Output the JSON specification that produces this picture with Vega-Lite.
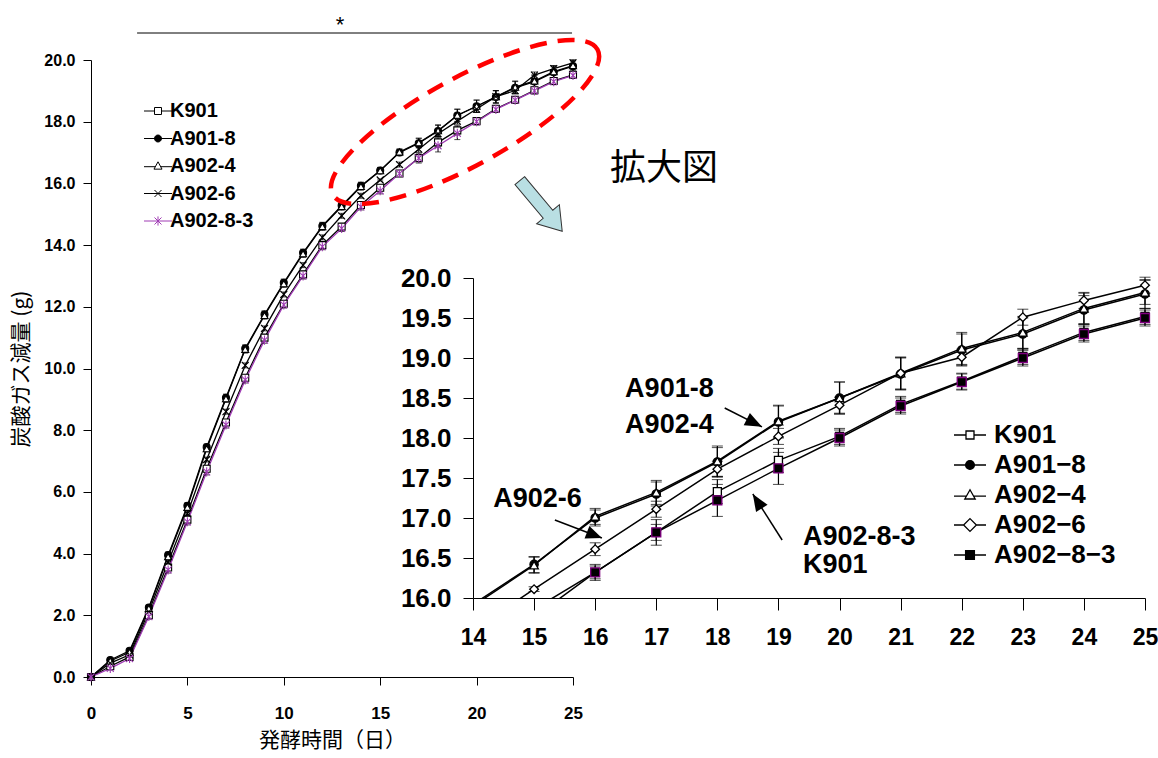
{
  "$schema": "https://vega.github.io/schema/vega-lite/v6.json",
  "width": 685,
  "height": 320,
  "autosize": {"type": "none"},
  "padding": {"left": 473, "top": 278, "right": 0, "bottom": 160},
  "background": "white",
  "config": {
    "view": {"stroke": null},
    "font": "Liberation Sans",
    "axis": {"grid": false, "domainColor": "black", "tickColor": "black", "labelColor": "black", "titleColor": "black", "domainWidth": 1, "tickWidth": 1, "labelOverlap": false, "labelFlush": false},
    "legend": {"padding": 0, "symbolOpacity": 1, "labelColor": "black"}
  },
  "datasets": {
    "d": [
      {"series":"K901","day":0,"val":0,"err":0},{"series":"K901","day":1,"val":0.35,"err":0.05},{"series":"K901","day":2,"val":0.65,"err":0.05},{"series":"K901","day":3,"val":2.0,"err":0.08},{"series":"K901","day":4,"val":3.55,"err":0.1},{"series":"K901","day":5,"val":5.1,"err":0.1},{"series":"K901","day":6,"val":6.75,"err":0.1},{"series":"K901","day":7,"val":8.25,"err":0.1},{"series":"K901","day":8,"val":9.7,"err":0.1},{"series":"K901","day":9,"val":11.0,"err":0.1},{"series":"K901","day":10,"val":12.1,"err":0.1},{"series":"K901","day":11,"val":13.05,"err":0.1},{"series":"K901","day":12,"val":14.0,"err":0.1},{"series":"K901","day":13,"val":14.6,"err":0.1},{"series":"K901","day":14,"val":15.3,"err":0.1},{"series":"K901","day":15,"val":15.86,"err":0.1},{"series":"K901","day":16,"val":16.32,"err":0.08},{"series":"K901","day":17,"val":16.82,"err":0.1},{"series":"K901","day":18,"val":17.33,"err":0.15},{"series":"K901","day":19,"val":17.72,"err":0.15},{"series":"K901","day":20,"val":18.02,"err":0.1},{"series":"K901","day":21,"val":18.42,"err":0.1},{"series":"K901","day":22,"val":18.71,"err":0.1},{"series":"K901","day":23,"val":19.02,"err":0.1},{"series":"K901","day":24,"val":19.32,"err":0.1},{"series":"K901","day":25,"val":19.52,"err":0.1},
      {"series":"A901-8","day":0,"val":0,"err":0},{"series":"A901-8","day":1,"val":0.55,"err":0.05},{"series":"A901-8","day":2,"val":0.85,"err":0.06},{"series":"A901-8","day":3,"val":2.25,"err":0.08},{"series":"A901-8","day":4,"val":3.95,"err":0.1},{"series":"A901-8","day":5,"val":5.55,"err":0.1},{"series":"A901-8","day":6,"val":7.45,"err":0.1},{"series":"A901-8","day":7,"val":9.05,"err":0.12},{"series":"A901-8","day":8,"val":10.65,"err":0.12},{"series":"A901-8","day":9,"val":11.75,"err":0.12},{"series":"A901-8","day":10,"val":12.78,"err":0.12},{"series":"A901-8","day":11,"val":13.75,"err":0.12},{"series":"A901-8","day":12,"val":14.62,"err":0.12},{"series":"A901-8","day":13,"val":15.28,"err":0.12},{"series":"A901-8","day":14,"val":15.92,"err":0.12},{"series":"A901-8","day":15,"val":16.42,"err":0.1},{"series":"A901-8","day":16,"val":17.0,"err":0.1},{"series":"A901-8","day":17,"val":17.3,"err":0.15},{"series":"A901-8","day":18,"val":17.7,"err":0.18},{"series":"A901-8","day":19,"val":18.2,"err":0.2},{"series":"A901-8","day":20,"val":18.5,"err":0.2},{"series":"A901-8","day":21,"val":18.8,"err":0.2},{"series":"A901-8","day":22,"val":19.1,"err":0.2},{"series":"A901-8","day":23,"val":19.3,"err":0.2},{"series":"A901-8","day":24,"val":19.6,"err":0.18},{"series":"A901-8","day":25,"val":19.8,"err":0.18},
      {"series":"A902-4","day":0,"val":0,"err":0},{"series":"A902-4","day":1,"val":0.52,"err":0.05},{"series":"A902-4","day":2,"val":0.8,"err":0.06},{"series":"A902-4","day":3,"val":2.22,"err":0.08},{"series":"A902-4","day":4,"val":3.9,"err":0.1},{"series":"A902-4","day":5,"val":5.5,"err":0.1},{"series":"A902-4","day":6,"val":7.4,"err":0.1},{"series":"A902-4","day":7,"val":9.02,"err":0.12},{"series":"A902-4","day":8,"val":10.62,"err":0.12},{"series":"A902-4","day":9,"val":11.72,"err":0.12},{"series":"A902-4","day":10,"val":12.75,"err":0.12},{"series":"A902-4","day":11,"val":13.72,"err":0.12},{"series":"A902-4","day":12,"val":14.6,"err":0.12},{"series":"A902-4","day":13,"val":15.25,"err":0.12},{"series":"A902-4","day":14,"val":15.9,"err":0.12},{"series":"A902-4","day":15,"val":16.41,"err":0.1},{"series":"A902-4","day":16,"val":17.02,"err":0.1},{"series":"A902-4","day":17,"val":17.32,"err":0.15},{"series":"A902-4","day":18,"val":17.71,"err":0.19},{"series":"A902-4","day":19,"val":18.21,"err":0.2},{"series":"A902-4","day":20,"val":18.5,"err":0.2},{"series":"A902-4","day":21,"val":18.81,"err":0.2},{"series":"A902-4","day":22,"val":19.12,"err":0.2},{"series":"A902-4","day":23,"val":19.32,"err":0.2},{"series":"A902-4","day":24,"val":19.62,"err":0.19},{"series":"A902-4","day":25,"val":19.82,"err":0.15},
      {"series":"A902-6","day":0,"val":0,"err":0},{"series":"A902-6","day":1,"val":0.45,"err":0.04},{"series":"A902-6","day":2,"val":0.72,"err":0.05},{"series":"A902-6","day":3,"val":2.12,"err":0.06},{"series":"A902-6","day":4,"val":3.72,"err":0.08},{"series":"A902-6","day":5,"val":5.3,"err":0.08},{"series":"A902-6","day":6,"val":7.05,"err":0.08},{"series":"A902-6","day":7,"val":8.6,"err":0.08},{"series":"A902-6","day":8,"val":10.1,"err":0.08},{"series":"A902-6","day":9,"val":11.3,"err":0.08},{"series":"A902-6","day":10,"val":12.4,"err":0.08},{"series":"A902-6","day":11,"val":13.35,"err":0.08},{"series":"A902-6","day":12,"val":14.25,"err":0.08},{"series":"A902-6","day":13,"val":14.95,"err":0.08},{"series":"A902-6","day":14,"val":15.6,"err":0.08},{"series":"A902-6","day":15,"val":16.11,"err":0.03},{"series":"A902-6","day":16,"val":16.61,"err":0.08},{"series":"A902-6","day":17,"val":17.11,"err":0.1},{"series":"A902-6","day":18,"val":17.61,"err":0.1},{"series":"A902-6","day":19,"val":18.02,"err":0.1},{"series":"A902-6","day":20,"val":18.41,"err":0.1},{"series":"A902-6","day":21,"val":18.81,"err":0.2},{"series":"A902-6","day":22,"val":19.01,"err":0.1},{"series":"A902-6","day":23,"val":19.51,"err":0.1},{"series":"A902-6","day":24,"val":19.72,"err":0.1},{"series":"A902-6","day":25,"val":19.91,"err":0.1},
      {"series":"A902-8-3","day":0,"val":0,"err":0},{"series":"A902-8-3","day":1,"val":0.28,"err":0.05},{"series":"A902-8-3","day":2,"val":0.6,"err":0.05},{"series":"A902-8-3","day":3,"val":1.96,"err":0.08},{"series":"A902-8-3","day":4,"val":3.47,"err":0.1},{"series":"A902-8-3","day":5,"val":5.03,"err":0.1},{"series":"A902-8-3","day":6,"val":6.65,"err":0.1},{"series":"A902-8-3","day":7,"val":8.17,"err":0.1},{"series":"A902-8-3","day":8,"val":9.63,"err":0.1},{"series":"A902-8-3","day":9,"val":10.92,"err":0.1},{"series":"A902-8-3","day":10,"val":12.06,"err":0.1},{"series":"A902-8-3","day":11,"val":13.0,"err":0.1},{"series":"A902-8-3","day":12,"val":13.95,"err":0.1},{"series":"A902-8-3","day":13,"val":14.54,"err":0.1},{"series":"A902-8-3","day":14,"val":15.24,"err":0.1},{"series":"A902-8-3","day":15,"val":15.76,"err":0.1},{"series":"A902-8-3","day":16,"val":16.32,"err":0.1},{"series":"A902-8-3","day":17,"val":16.82,"err":0.16},{"series":"A902-8-3","day":18,"val":17.22,"err":0.2},{"series":"A902-8-3","day":19,"val":17.62,"err":0.2},{"series":"A902-8-3","day":20,"val":18.0,"err":0.1},{"series":"A902-8-3","day":21,"val":18.4,"err":0.1},{"series":"A902-8-3","day":22,"val":18.7,"err":0.1},{"series":"A902-8-3","day":23,"val":19.0,"err":0.1},{"series":"A902-8-3","day":24,"val":19.3,"err":0.1},{"series":"A902-8-3","day":25,"val":19.5,"err":0.1}
    ],
    "insetText": [
      {"day":16.49,"val":18.51,"label":"A901-8"},
      {"day":16.49,"val":18.06,"label":"A902-4"},
      {"day":14.33,"val":17.14,"label":"A902-6"},
      {"day":19.4,"val":16.66,"label":"A902-8-3"},
      {"day":19.4,"val":16.31,"label":"K901"}
    ],
    "arrows": [
      {"id":"a1","day":18.12,"val":18.375,"day2":18.73,"val2":18.14},
      {"id":"a2","day":15.34,"val":16.975,"day2":16.11,"val2":16.75},
      {"id":"a3","day":19.06,"val":16.725,"day2":18.58,"val2":17.3}
    ],
    "sig": [{"day":2.39,"day2":24.95,"val":20.875,"label":"*","lday":12.92,"lval":20.9}],
    "zoomNote": [{"day":29.72,"val":16.47,"label":"拡大図"}],
    "blueArrow": [{"day":23.34,"val":15.27}],
    "ellipse": [{"day":19.4,"val":17.99}]
  },
  "layer": [
    {
      "layer": [
        {
          "data": {"name": "d"},
          "mark": {"type": "line", "strokeWidth": 1.3},
          "encoding": {
            "x": {"field": "day", "type": "quantitative", "title": "発酵時間（日）", "scale": {"domain": [0, 25], "range": [-382, 100], "nice": false, "zero": false, "padding": 0},
              "axis": {"orient": "bottom", "offset": 79, "values": [0, 5, 10, 15, 20, 25], "format": "d", "tickSize": 8, "labelPadding": 20, "labelOverlap": false, "labelFlush": false, "labelFont": "Liberation Sans", "labelFontSize": 17, "labelFontWeight": "bold", "titleFont": "Noto Sans CJK JP", "titleFontSize": 21, "titleFontWeight": "normal", "titlePadding": 8}},
            "y": {"field": "val", "type": "quantitative", "title": "炭酸ガス減量 (g)", "scale": {"domain": [0, 20], "range": [399, -218], "nice": false, "zero": false, "padding": 0},
              "axis": {"orient": "left", "offset": 382, "values": [0, 2, 4, 6, 8, 10, 12, 14, 16, 18, 20], "format": ".1f", "tickSize": 8, "labelPadding": 8, "labelOverlap": false, "labelFont": "Liberation Sans", "labelFontSize": 16, "labelFontWeight": "bold", "titleFont": "Noto Sans CJK JP", "titleFontSize": 21, "titleFontWeight": "normal", "titlePadding": 12}},
            "stroke": {"field": "series", "type": "nominal", "scale": {"domain": ["K901", "A901-8", "A902-4", "A902-6", "A902-8-3"], "range": ["black", "black", "black", "black", "#a03cb4"]}, "legend": null}
          }
        },
        {
          "data": {"name": "d"},
          "transform": [{"filter": "datum.day > 0"}],
          "mark": {"type": "errorbar", "ticks": {"size": 6}, "color": "black", "rule": {"strokeWidth": 1}},
          "encoding": {
            "x": {"field": "day", "type": "quantitative", "title": "発酵時間（日）",
              "axis": {"orient": "bottom", "offset": 79, "values": [0, 5, 10, 15, 20, 25], "format": "d", "tickSize": 8, "labelPadding": 20, "labelOverlap": false, "labelFlush": false, "labelFont": "Liberation Sans", "labelFontSize": 17, "labelFontWeight": "bold", "titleFont": "Noto Sans CJK JP", "titleFontSize": 21, "titleFontWeight": "normal", "titlePadding": 8}},
            "y": {"field": "val", "type": "quantitative", "title": "炭酸ガス減量 (g)",
              "axis": {"orient": "left", "offset": 382, "values": [0, 2, 4, 6, 8, 10, 12, 14, 16, 18, 20], "format": ".1f", "tickSize": 8, "labelPadding": 8, "labelOverlap": false, "labelFont": "Liberation Sans", "labelFontSize": 16, "labelFontWeight": "bold", "titleFont": "Noto Sans CJK JP", "titleFontSize": 21, "titleFontWeight": "normal", "titlePadding": 12}},
            "yError": {"field": "err"},
            "detail": {"field": "series"}
          }
        },
        {
          "data": {"name": "d"},
          "mark": {"type": "point", "filled": true, "opacity": 1, "strokeWidth": 1.1},
          "encoding": {
            "x": {"field": "day", "type": "quantitative", "title": "発酵時間（日）",
              "axis": {"orient": "bottom", "offset": 79, "values": [0, 5, 10, 15, 20, 25], "format": "d", "tickSize": 8, "labelPadding": 20, "labelOverlap": false, "labelFlush": false, "labelFont": "Liberation Sans", "labelFontSize": 17, "labelFontWeight": "bold", "titleFont": "Noto Sans CJK JP", "titleFontSize": 21, "titleFontWeight": "normal", "titlePadding": 8}},
            "y": {"field": "val", "type": "quantitative", "title": "炭酸ガス減量 (g)",
              "axis": {"orient": "left", "offset": 382, "values": [0, 2, 4, 6, 8, 10, 12, 14, 16, 18, 20], "format": ".1f", "tickSize": 8, "labelPadding": 8, "labelOverlap": false, "labelFont": "Liberation Sans", "labelFontSize": 16, "labelFontWeight": "bold", "titleFont": "Noto Sans CJK JP", "titleFontSize": 21, "titleFontWeight": "normal", "titlePadding": 12}},
            "shape": {"field": "series", "type": "nominal", "legend": null, "scale": {"domain": ["K901", "A901-8", "A902-4", "A902-6", "A902-8-3"], "range": ["square", "circle", "triangle-up", "M-1,-1L1,1M-1,1L1,-1", "M-1,-1L1,1M-1,1L1,-1M0,-1.3L0,1.3"]}},
            "fill": {"field": "series", "type": "nominal", "legend": null, "scale": {"domain": ["K901", "A901-8", "A902-4", "A902-6", "A902-8-3"], "range": ["white", "black", "white", "transparent", "transparent"]}},
            "stroke": {"field": "series", "type": "nominal", "legend": null, "scale": {"domain": ["K901", "A901-8", "A902-4", "A902-6", "A902-8-3"], "range": ["black", "black", "black", "black", "#a03cb4"]}},
            "size": {"field": "series", "type": "nominal", "legend": null, "scale": {"domain": ["K901", "A901-8", "A902-4", "A902-6", "A902-8-3"], "range": [49, 49, 70, 49, 100]}}
          }
        },
        {
          "data": {"name": "d"},
          "transform": [{"filter": "datum.day == 0"}],
          "mark": {"type": "point", "filled": true, "opacity": 0},
          "encoding": {
            "x": {"field": "day", "type": "quantitative", "title": "発酵時間（日）",
              "axis": {"orient": "bottom", "offset": 79, "values": [0, 5, 10, 15, 20, 25], "format": "d", "tickSize": 8, "labelPadding": 20, "labelOverlap": false, "labelFlush": false, "labelFont": "Liberation Sans", "labelFontSize": 17, "labelFontWeight": "bold", "titleFont": "Noto Sans CJK JP", "titleFontSize": 21, "titleFontWeight": "normal", "titlePadding": 8}},
            "y": {"field": "val", "type": "quantitative", "title": "炭酸ガス減量 (g)",
              "axis": {"orient": "left", "offset": 382, "values": [0, 2, 4, 6, 8, 10, 12, 14, 16, 18, 20], "format": ".1f", "tickSize": 8, "labelPadding": 8, "labelOverlap": false, "labelFont": "Liberation Sans", "labelFontSize": 16, "labelFontWeight": "bold", "titleFont": "Noto Sans CJK JP", "titleFontSize": 21, "titleFontWeight": "normal", "titlePadding": 12}},
            "shape": {"field": "series", "type": "nominal",
              "scale": {"domain": ["K901", "A901-8", "A902-4", "A902-6", "A902-8-3"], "range": [
                "M-4,0L-1,0M1,0L4,0M-1,-1L1,-1L1,1L-1,1Z",
                "M-4,0L4,0M1,0C1,0.552 0.552,1 0,1C-0.552,1 -1,0.552 -1,0C-1,-0.552 -0.552,-1 0,-1C0.552,-1 1,-0.552 1,0Z",
                "M-4,0.2L-0.75,0.2M0.75,0.2L4,0.2M0,-1.2L1.15,0.9L-1.15,0.9Z",
                "M-4,0L4,0M-1,-1L1,1M-1,1L1,-1",
                "M-4,0L4,0M-1,-1L1,1M-1,1L1,-1M0,-1.3L0,1.3"]},
              "legend": {"orient": "none", "legendX": -325, "legendY": -177, "title": null, "labelFont": "Liberation Sans", "labelFontSize": 20, "labelFontWeight": "bold", "symbolSize": 49, "symbolStrokeWidth": 1, "labelOffset": 2, "rowPadding": 7.5, "symbolOpacity": 1}},
            "fill": {"field": "series", "type": "nominal", "scale": {"domain": ["K901", "A901-8", "A902-4", "A902-6", "A902-8-3"], "range": ["white", "black", "white", "transparent", "transparent"]}},
            "stroke": {"field": "series", "type": "nominal", "scale": {"domain": ["K901", "A901-8", "A902-4", "A902-6", "A902-8-3"], "range": ["black", "black", "black", "black", "#a03cb4"]}}
          }
        },
        {
          "data": {"name": "sig"},
          "mark": {"type": "rule", "color": "black", "strokeWidth": 1},
          "encoding": {
            "x": {"field": "day", "type": "quantitative", "title": "発酵時間（日）",
              "axis": {"orient": "bottom", "offset": 79, "values": [0, 5, 10, 15, 20, 25], "format": "d", "tickSize": 8, "labelPadding": 20, "labelOverlap": false, "labelFlush": false, "labelFont": "Liberation Sans", "labelFontSize": 17, "labelFontWeight": "bold", "titleFont": "Noto Sans CJK JP", "titleFontSize": 21, "titleFontWeight": "normal", "titlePadding": 8}},
            "x2": {"field": "day2"},
            "y": {"field": "val", "type": "quantitative", "title": "炭酸ガス減量 (g)",
              "axis": {"orient": "left", "offset": 382, "values": [0, 2, 4, 6, 8, 10, 12, 14, 16, 18, 20], "format": ".1f", "tickSize": 8, "labelPadding": 8, "labelOverlap": false, "labelFont": "Liberation Sans", "labelFontSize": 16, "labelFontWeight": "bold", "titleFont": "Noto Sans CJK JP", "titleFontSize": 21, "titleFontWeight": "normal", "titlePadding": 12}}
          }
        },
        {
          "data": {"name": "sig"},
          "mark": {"type": "text", "fontSize": 22, "font": "Liberation Sans", "align": "center", "baseline": "alphabetic", "color": "black"},
          "encoding": {
            "x": {"field": "lday", "type": "quantitative", "title": "発酵時間（日）",
              "axis": {"orient": "bottom", "offset": 79, "values": [0, 5, 10, 15, 20, 25], "format": "d", "tickSize": 8, "labelPadding": 20, "labelOverlap": false, "labelFlush": false, "labelFont": "Liberation Sans", "labelFontSize": 17, "labelFontWeight": "bold", "titleFont": "Noto Sans CJK JP", "titleFontSize": 21, "titleFontWeight": "normal", "titlePadding": 8}},
            "y": {"field": "lval", "type": "quantitative", "title": "炭酸ガス減量 (g)",
              "axis": {"orient": "left", "offset": 382, "values": [0, 2, 4, 6, 8, 10, 12, 14, 16, 18, 20], "format": ".1f", "tickSize": 8, "labelPadding": 8, "labelOverlap": false, "labelFont": "Liberation Sans", "labelFontSize": 16, "labelFontWeight": "bold", "titleFont": "Noto Sans CJK JP", "titleFontSize": 21, "titleFontWeight": "normal", "titlePadding": 12}},
            "text": {"field": "label"}
          }
        },
        {
          "data": {"name": "zoomNote"},
          "mark": {"type": "text", "fontSize": 36, "font": "Noto Sans CJK JP", "align": "center", "baseline": "middle", "color": "black"},
          "encoding": {
            "x": {"field": "day", "type": "quantitative", "title": "発酵時間（日）",
              "axis": {"orient": "bottom", "offset": 79, "values": [0, 5, 10, 15, 20, 25], "format": "d", "tickSize": 8, "labelPadding": 20, "labelOverlap": false, "labelFlush": false, "labelFont": "Liberation Sans", "labelFontSize": 17, "labelFontWeight": "bold", "titleFont": "Noto Sans CJK JP", "titleFontSize": 21, "titleFontWeight": "normal", "titlePadding": 8}},
            "y": {"field": "val", "type": "quantitative", "title": "炭酸ガス減量 (g)",
              "axis": {"orient": "left", "offset": 382, "values": [0, 2, 4, 6, 8, 10, 12, 14, 16, 18, 20], "format": ".1f", "tickSize": 8, "labelPadding": 8, "labelOverlap": false, "labelFont": "Liberation Sans", "labelFontSize": 16, "labelFontWeight": "bold", "titleFont": "Noto Sans CJK JP", "titleFontSize": 21, "titleFontWeight": "normal", "titlePadding": 12}},
            "text": {"field": "label"}
          }
        },
        {
          "data": {"name": "blueArrow"},
          "mark": {"type": "point", "shape": "M-1,-0.19L0.33,-0.19L0.33,-0.45L1,0L0.33,0.45L0.33,0.19L-1,0.19Z", "size": 4356, "angle": 50, "filled": true, "fill": "#b9dfe3", "stroke": "#333333", "strokeWidth": 1, "opacity": 1},
          "encoding": {
            "x": {"field": "day", "type": "quantitative", "title": "発酵時間（日）",
              "axis": {"orient": "bottom", "offset": 79, "values": [0, 5, 10, 15, 20, 25], "format": "d", "tickSize": 8, "labelPadding": 20, "labelOverlap": false, "labelFlush": false, "labelFont": "Liberation Sans", "labelFontSize": 17, "labelFontWeight": "bold", "titleFont": "Noto Sans CJK JP", "titleFontSize": 21, "titleFontWeight": "normal", "titlePadding": 8}},
            "y": {"field": "val", "type": "quantitative", "title": "炭酸ガス減量 (g)",
              "axis": {"orient": "left", "offset": 382, "values": [0, 2, 4, 6, 8, 10, 12, 14, 16, 18, 20], "format": ".1f", "tickSize": 8, "labelPadding": 8, "labelOverlap": false, "labelFont": "Liberation Sans", "labelFontSize": 16, "labelFontWeight": "bold", "titleFont": "Noto Sans CJK JP", "titleFontSize": 21, "titleFontWeight": "normal", "titlePadding": 12}}
          }
        },
        {
          "data": {"name": "ellipse"},
          "mark": {"type": "point", "shape": "M1,0C1,0.16 0.552,0.29 0,0.29C-0.552,0.29 -1,0.16 -1,0C-1,-0.16 -0.552,-0.29 0,-0.29C0.552,-0.29 1,-0.16 1,0Z", "size": 91204, "angle": 331.3, "filled": false, "stroke": "#ff0000", "strokeWidth": 4.5, "strokeDash": [17, 11], "opacity": 1},
          "encoding": {
            "x": {"field": "day", "type": "quantitative", "title": "発酵時間（日）",
              "axis": {"orient": "bottom", "offset": 79, "values": [0, 5, 10, 15, 20, 25], "format": "d", "tickSize": 8, "labelPadding": 20, "labelOverlap": false, "labelFlush": false, "labelFont": "Liberation Sans", "labelFontSize": 17, "labelFontWeight": "bold", "titleFont": "Noto Sans CJK JP", "titleFontSize": 21, "titleFontWeight": "normal", "titlePadding": 8}},
            "y": {"field": "val", "type": "quantitative", "title": "炭酸ガス減量 (g)",
              "axis": {"orient": "left", "offset": 382, "values": [0, 2, 4, 6, 8, 10, 12, 14, 16, 18, 20], "format": ".1f", "tickSize": 8, "labelPadding": 8, "labelOverlap": false, "labelFont": "Liberation Sans", "labelFontSize": 16, "labelFontWeight": "bold", "titleFont": "Noto Sans CJK JP", "titleFontSize": 21, "titleFontWeight": "normal", "titlePadding": 12}}
          }
        }
      ],
      "resolve": {"scale": {"shape": "independent", "fill": "independent", "stroke": "independent", "size": "independent"}}
    },
    {
      "layer": [
        {
          "data": {"name": "d"},
          "transform": [{"filter": "datum.day >= 14"}],
          "mark": {"type": "line", "strokeWidth": 1.5, "color": "black", "clip": true},
          "encoding": {
            "x": {"field": "day", "type": "quantitative", "title": null, "scale": {"domain": [14, 25], "range": [0, 672], "nice": false, "zero": false, "padding": 0},
              "axis": {"orient": "bottom", "values": [14, 15, 16, 17, 18, 19, 20, 21, 22, 23, 24, 25], "format": "d", "tickSize": 12, "labelPadding": 16, "labelOverlap": false, "labelFlush": false, "labelFont": "Liberation Sans", "labelFontSize": 23, "labelFontWeight": "bold"}},
            "y": {"field": "val", "type": "quantitative", "title": null, "scale": {"domain": [16, 20], "range": [320, 0], "nice": false, "zero": false, "padding": 0},
              "axis": {"orient": "left", "values": [16, 16.5, 17, 17.5, 18, 18.5, 19, 19.5, 20], "format": ".1f", "tickSize": 10, "labelPadding": 12, "labelOverlap": false, "labelFont": "Liberation Sans", "labelFontSize": 26, "labelFontWeight": "bold"}},
            "detail": {"field": "series"}
          }
        },
        {
          "data": {"name": "d"},
          "transform": [{"filter": "datum.day >= 15 && datum.val >= 16"}],
          "mark": {"type": "errorbar", "ticks": {"size": 11}, "color": "black", "rule": {"strokeWidth": 1.2}},
          "encoding": {
            "x": {"field": "day", "type": "quantitative", "title": null,
              "axis": {"orient": "bottom", "values": [14, 15, 16, 17, 18, 19, 20, 21, 22, 23, 24, 25], "format": "d", "tickSize": 12, "labelPadding": 16, "labelOverlap": false, "labelFlush": false, "labelFont": "Liberation Sans", "labelFontSize": 23, "labelFontWeight": "bold"}},
            "y": {"field": "val", "type": "quantitative", "title": null,
              "axis": {"orient": "left", "values": [16, 16.5, 17, 17.5, 18, 18.5, 19, 19.5, 20], "format": ".1f", "tickSize": 10, "labelPadding": 12, "labelOverlap": false, "labelFont": "Liberation Sans", "labelFontSize": 26, "labelFontWeight": "bold"}},
            "yError": {"field": "err"},
            "detail": {"field": "series"}
          }
        },
        {
          "data": {"name": "d"},
          "transform": [{"filter": "datum.day >= 14"}],
          "mark": {"type": "point", "filled": true, "opacity": 1, "strokeWidth": 1.3, "clip": true},
          "encoding": {
            "x": {"field": "day", "type": "quantitative", "title": null,
              "axis": {"orient": "bottom", "values": [14, 15, 16, 17, 18, 19, 20, 21, 22, 23, 24, 25], "format": "d", "tickSize": 12, "labelPadding": 16, "labelOverlap": false, "labelFlush": false, "labelFont": "Liberation Sans", "labelFontSize": 23, "labelFontWeight": "bold"}},
            "y": {"field": "val", "type": "quantitative", "title": null,
              "axis": {"orient": "left", "values": [16, 16.5, 17, 17.5, 18, 18.5, 19, 19.5, 20], "format": ".1f", "tickSize": 10, "labelPadding": 12, "labelOverlap": false, "labelFont": "Liberation Sans", "labelFontSize": 26, "labelFontWeight": "bold"}},
            "shape": {"field": "series", "type": "nominal", "legend": null, "scale": {"domain": ["K901", "A901-8", "A902-4", "A902-6", "A902-8-3"], "range": ["square", "circle", "triangle-up", "diamond", "square"]}},
            "fill": {"field": "series", "type": "nominal", "legend": null, "scale": {"domain": ["K901", "A901-8", "A902-4", "A902-6", "A902-8-3"], "range": ["white", "black", "white", "white", "black"]}},
            "stroke": {"field": "series", "type": "nominal", "legend": null, "scale": {"domain": ["K901", "A901-8", "A902-4", "A902-6", "A902-8-3"], "range": ["black", "black", "black", "black", "#800080"]}},
            "size": {"field": "series", "type": "nominal", "legend": null, "scale": {"domain": ["K901", "A901-8", "A902-4", "A902-6", "A902-8-3"], "range": [64, 81, 121, 196, 81]}}
          }
        },
        {
          "data": {"name": "d"},
          "transform": [{"filter": "datum.day == 25"}],
          "mark": {"type": "point", "filled": true, "opacity": 0},
          "encoding": {
            "x": {"field": "day", "type": "quantitative", "title": null,
              "axis": {"orient": "bottom", "values": [14, 15, 16, 17, 18, 19, 20, 21, 22, 23, 24, 25], "format": "d", "tickSize": 12, "labelPadding": 16, "labelOverlap": false, "labelFlush": false, "labelFont": "Liberation Sans", "labelFontSize": 23, "labelFontWeight": "bold"}},
            "y": {"field": "val", "type": "quantitative", "title": null,
              "axis": {"orient": "left", "values": [16, 16.5, 17, 17.5, 18, 18.5, 19, 19.5, 20], "format": ".1f", "tickSize": 10, "labelPadding": 12, "labelOverlap": false, "labelFont": "Liberation Sans", "labelFontSize": 26, "labelFontWeight": "bold"}},
            "shape": {"field": "series", "type": "nominal",
              "scale": {"domain": ["K901", "A901-8", "A902-4", "A902-6", "A902-8-3"], "range": [
                "M-4,0L-1,0M1,0L4,0M-1,-1L1,-1L1,1L-1,1Z",
                "M-4,0L4,0M1.1,0C1.1,0.61 0.61,1.1 0,1.1C-0.61,1.1 -1.1,0.61 -1.1,0C-1.1,-0.61 -0.61,-1.1 0,-1.1C0.61,-1.1 1.1,-0.61 1.1,0Z",
                "M-4,0.3L-0.9,0.3M0.9,0.3L4,0.3M0,-1.3L1.3,1L-1.3,1Z",
                "M-4,0L-1.6,0M1.6,0L4,0M0,-1.6L1.6,0L0,1.6L-1.6,0Z",
                "M-4,0L-1.1,0M1.1,0L4,0M-1.1,-1.1L1.1,-1.1L1.1,1.1L-1.1,1.1Z"]},
              "legend": {"orient": "none", "legendX": 484, "legendY": 144, "title": null, "labelFont": "Liberation Sans", "labelFontSize": 26, "labelFontWeight": "bold", "symbolSize": 64, "symbolStrokeWidth": 1.3, "labelOffset": 11, "rowPadding": 4, "symbolOpacity": 1,
                "labelExpr": "replace(replace(datum.label, '-', '−'), '-', '−')"}},
            "fill": {"field": "series", "type": "nominal", "scale": {"domain": ["K901", "A901-8", "A902-4", "A902-6", "A902-8-3"], "range": ["white", "black", "white", "white", "black"]}},
            "stroke": {"field": "series", "type": "nominal", "scale": {"domain": ["K901", "A901-8", "A902-4", "A902-6", "A902-8-3"], "range": ["black", "black", "black", "black", "black"]}}
          }
        },
        {
          "data": {"name": "insetText"},
          "mark": {"type": "text", "fontSize": 27, "font": "Liberation Sans", "fontWeight": "bold", "align": "left", "baseline": "alphabetic", "color": "black"},
          "encoding": {
            "x": {"field": "day", "type": "quantitative", "title": null,
              "axis": {"orient": "bottom", "values": [14, 15, 16, 17, 18, 19, 20, 21, 22, 23, 24, 25], "format": "d", "tickSize": 12, "labelPadding": 16, "labelOverlap": false, "labelFlush": false, "labelFont": "Liberation Sans", "labelFontSize": 23, "labelFontWeight": "bold"}},
            "y": {"field": "val", "type": "quantitative", "title": null,
              "axis": {"orient": "left", "values": [16, 16.5, 17, 17.5, 18, 18.5, 19, 19.5, 20], "format": ".1f", "tickSize": 10, "labelPadding": 12, "labelOverlap": false, "labelFont": "Liberation Sans", "labelFontSize": 26, "labelFontWeight": "bold"}},
            "text": {"field": "label"}
          }
        },
        {
          "data": {"name": "arrows"},
          "mark": {"type": "rule", "color": "black", "strokeWidth": 1.5},
          "encoding": {
            "x": {"field": "day", "type": "quantitative", "title": null,
              "axis": {"orient": "bottom", "values": [14, 15, 16, 17, 18, 19, 20, 21, 22, 23, 24, 25], "format": "d", "tickSize": 12, "labelPadding": 16, "labelOverlap": false, "labelFlush": false, "labelFont": "Liberation Sans", "labelFontSize": 23, "labelFontWeight": "bold"}},
            "y": {"field": "val", "type": "quantitative", "title": null,
              "axis": {"orient": "left", "values": [16, 16.5, 17, 17.5, 18, 18.5, 19, 19.5, 20], "format": ".1f", "tickSize": 10, "labelPadding": 12, "labelOverlap": false, "labelFont": "Liberation Sans", "labelFontSize": 26, "labelFontWeight": "bold"}},
            "x2": {"field": "day2"},
            "y2": {"field": "val2"}
          }
        },
        {
          "data": {"name": "arrows"},
          "transform": [{"filter": "datum.id == 'a1'"}],
          "mark": {"type": "point", "shape": "M0,0L-1,-0.4L-1,0.4Z", "size": 1156, "angle": 27, "filled": true, "color": "black", "opacity": 1},
          "encoding": {
            "x": {"field": "day2", "type": "quantitative", "title": null,
              "axis": {"orient": "bottom", "values": [14, 15, 16, 17, 18, 19, 20, 21, 22, 23, 24, 25], "format": "d", "tickSize": 12, "labelPadding": 16, "labelOverlap": false, "labelFlush": false, "labelFont": "Liberation Sans", "labelFontSize": 23, "labelFontWeight": "bold"}},
            "y": {"field": "val2", "type": "quantitative", "title": null,
              "axis": {"orient": "left", "values": [16, 16.5, 17, 17.5, 18, 18.5, 19, 19.5, 20], "format": ".1f", "tickSize": 10, "labelPadding": 12, "labelOverlap": false, "labelFont": "Liberation Sans", "labelFontSize": 26, "labelFontWeight": "bold"}}
          }
        },
        {
          "data": {"name": "arrows"},
          "transform": [{"filter": "datum.id == 'a2'"}],
          "mark": {"type": "point", "shape": "M0,0L-1,-0.42L-1,0.42Z", "size": 1024, "angle": 21, "filled": true, "color": "black", "opacity": 1},
          "encoding": {
            "x": {"field": "day2", "type": "quantitative", "title": null,
              "axis": {"orient": "bottom", "values": [14, 15, 16, 17, 18, 19, 20, 21, 22, 23, 24, 25], "format": "d", "tickSize": 12, "labelPadding": 16, "labelOverlap": false, "labelFlush": false, "labelFont": "Liberation Sans", "labelFontSize": 23, "labelFontWeight": "bold"}},
            "y": {"field": "val2", "type": "quantitative", "title": null,
              "axis": {"orient": "left", "values": [16, 16.5, 17, 17.5, 18, 18.5, 19, 19.5, 20], "format": ".1f", "tickSize": 10, "labelPadding": 12, "labelOverlap": false, "labelFont": "Liberation Sans", "labelFontSize": 26, "labelFontWeight": "bold"}}
          }
        },
        {
          "data": {"name": "arrows"},
          "transform": [{"filter": "datum.id == 'a3'"}],
          "mark": {"type": "point", "shape": "M0,0L-1,-0.4L-1,0.4Z", "size": 1156, "angle": 238, "filled": true, "color": "black", "opacity": 1},
          "encoding": {
            "x": {"field": "day2", "type": "quantitative", "title": null,
              "axis": {"orient": "bottom", "values": [14, 15, 16, 17, 18, 19, 20, 21, 22, 23, 24, 25], "format": "d", "tickSize": 12, "labelPadding": 16, "labelOverlap": false, "labelFlush": false, "labelFont": "Liberation Sans", "labelFontSize": 23, "labelFontWeight": "bold"}},
            "y": {"field": "val2", "type": "quantitative", "title": null,
              "axis": {"orient": "left", "values": [16, 16.5, 17, 17.5, 18, 18.5, 19, 19.5, 20], "format": ".1f", "tickSize": 10, "labelPadding": 12, "labelOverlap": false, "labelFont": "Liberation Sans", "labelFontSize": 26, "labelFontWeight": "bold"}}
          }
        }
      ],
      "resolve": {"scale": {"shape": "independent", "fill": "independent", "stroke": "independent", "size": "independent"}}
    }
  ],
  "resolve": {
    "scale": {"x": "independent", "y": "independent", "shape": "independent", "fill": "independent", "stroke": "independent", "size": "independent"},
    "axis": {"x": "independent", "y": "independent"},
    "legend": {"shape": "independent", "fill": "independent", "stroke": "independent", "size": "independent"}
  }
}
